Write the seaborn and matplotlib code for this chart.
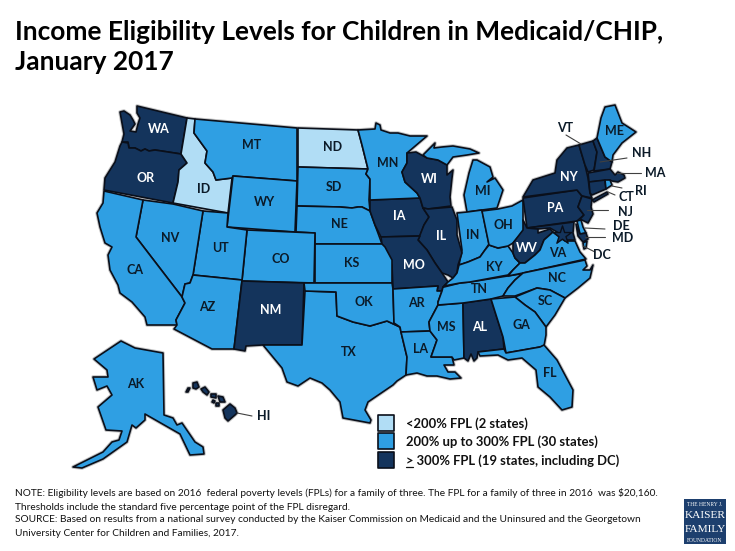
import matplotlib
matplotlib.use("Agg")
import matplotlib.pyplot as plt
import pandas as pd
import seaborn as sns

# state outlines (x right, y down)
WA = [(137,106),(187,118),(181,154),(155,150),(149,151),(145,149),(141,151),(135,148),(129,148),(128,142),(122,142),(124,134),(120,112),(124,111),(130,115),(133,120),(135,124),(130,131),(136,132),(138,124),(140,118),(137,113)]
OR = [(122,142),(128,143),(129,148),(135,148),(141,151),(145,149),(149,151),(155,150),(181,154),(187,163),(179,170),(178,182),(173,203),(104,190),(105,178),(115,162),(120,146)]
ID = [(187,118),(195,119),(194,133),(207,151),(205,163),(213,172),(216,180),(232,178),(228,213),(173,203),(178,182),(179,170),(187,163),(181,154)]
MT = [(195,119),(297,128),(297,181),(233,176),(232,178),(216,180),(213,172),(205,163),(207,151),(194,133)]
WY = [(233,176),(297,181),(295,232),(227,227)]
ND = [(298,128),(358,130),(362,145),(368,169),(298,167)]
SD = [(298,167),(368,169),(366,174),(370,179),(369,200),(370,211),(362,207),(358,207),(352,208),(340,207),(297,206)]
NE = [(297,206),(340,207),(352,208),(358,207),(362,207),(370,211),(375,225),(382,244),(315,244),(315,233),(296,232)]
IA = [(370,200),(420,198),(423,208),(429,217),(424,225),(420,236),(381,237),(375,225),(370,211)]
MN = [(358,130),(375,129),(376,123),(380,125),(381,130),(390,133),(398,133),(410,136),(427,136),(407,153),(407,163),(402,172),(405,182),(417,193),(420,198),(370,200),(370,179),(366,174),(368,169),(362,145)]
WI = [(407,153),(416,152),(427,158),(438,160),(447,165),(447,175),(453,170),(452,178),(450,197),(451,206),(428,209),(423,208),(420,198),(417,193),(405,182),(402,172),(407,163)]
MI_UPPER = [(423,155),(435,143),(434,148),(442,147),(453,146),(470,149),(479,153),(467,155),(453,157),(447,165),(438,160),(427,158)]
MI_LOWER = [(473,160),(477,160),(490,167),(493,177),(487,182),(495,178),(503,190),(498,205),(497,208),(467,212),(464,195),(469,173)]
IN = [(457,213),(467,212),(482,210),(489,244),(485,250),(480,257),(468,262),(459,265),(462,250)]
IL = [(428,209),(452,207),(455,215),(457,220),(457,235),(462,253),(458,265),(457,273),(453,278),(448,275),(442,273),(435,263),(427,250),(418,240),(424,225),(429,217),(423,208)]
MO = [(381,237),(420,236),(418,240),(427,250),(435,263),(442,273),(448,282),(443,287),(442,291),(437,291),(438,286),(393,289),(392,265),(382,244)]
KS = [(315,244),(382,244),(385,247),(392,260),(392,283),(315,283)]
CO = [(247,230),(315,233),(314,283),(242,281)]
UT = [(203,211),(228,213),(227,227),(247,230),(242,280),(193,275)]
NV = [(143,200),(173,204),(203,211),(193,275),(190,283),(185,284),(182,297),(136,237)]
CA = [(104,191),(143,200),(136,237),(182,297),(185,303),(176,320),(177,325),(147,325),(145,317),(132,302),(120,293),(118,285),(110,270),(108,255),(112,247),(105,243),(100,227),(97,213),(103,203)]
AZ = [(193,275),(242,280),(234,349),(212,349),(174,329),(177,325),(176,320),(185,303),(182,297),(185,284),(190,283)]
NM = [(242,281),(304,283),(302,345),(262,345),(246,346),(245,351),(234,349)]
TX = [(305,291),(336,292),(337,316),(353,322),(370,326),(387,321),(400,327),(401,332),(407,357),(406,375),(397,381),(393,385),(368,402),(365,410),(371,420),(370,423),(343,418),(340,402),(330,390),(322,383),(310,378),(298,386),(287,382),(282,368),(263,345),(302,345)]
OK = [(304,283),(392,283),(393,289),(394,323),(400,327),(387,321),(370,326),(353,322),(337,316),(336,292),(305,291)]
AR = [(393,289),(438,286),(437,291),(442,291),(438,302),(438,305),(429,322),(430,331),(401,332),(400,327),(394,323)]
LA = [(401,332),(430,331),(437,340),(431,357),(452,357),(454,365),(444,365),(448,372),(455,372),(461,378),(450,379),(437,376),(427,376),(417,373),(406,375),(407,357)]
MS = [(438,305),(463,303),(464,358),(454,360),(452,357),(431,357),(437,340),(430,331),(429,322)]
AL = [(463,303),(491,299),(503,337),(504,349),(478,352),(477,358),(474,361),(471,354),(468,361),(464,358)]
TN = [(444,287),(460,283),(470,282),(520,274),(523,273),(515,280),(508,288),(503,296),(491,299),(463,303),(438,305),(438,302),(442,291),(443,287)]
KY = [(444,286),(448,282),(453,278),(457,273),(459,265),(468,262),(480,257),(485,250),(489,245),(498,248),(508,246),(513,253),(515,258),(520,263),(513,270),(508,275),(470,282),(460,283)]
OH = [(482,211),(498,209),(512,206),(523,200),(523,220),(525,228),(520,235),(513,243),(508,246),(498,248),(489,245)]
PA = [(523,198),(577,190),(582,196),(578,207),(584,215),(577,221),(527,228)]
NY = [(523,197),(533,180),(555,173),(557,160),(567,148),(579,145),(585,165),(588,178),(590,193),(592,198),(582,196),(577,190)]
NY_LONG_ISLAND = [(592,200),(607,192),(608,194),(594,202)]
VT = [(579,145),(593,141),(597,152),(594,170),(588,172),(585,165)]
NH = [(593,141),(597,138),(605,157),(612,162),(610,169),(594,171),(597,152)]
ME = [(597,138),(601,118),(605,107),(615,105),(622,123),(636,132),(622,143),(613,155),(612,162),(605,157)]
MA = [(588,173),(610,169),(615,175),(618,172),(624,175),(625,178),(618,182),(612,181),(610,180),(589,182)]
CT = [(589,182),(605,180),(606,189),(592,195),(590,193)]
RI = [(605,180),(610,180),(612,185),(606,189)]
NJ = [(582,196),(592,199),(591,207),(593,214),(588,223),(580,219),(584,215),(578,207)]
DE = [(577,221),(581,220),(583,227),(586,233),(580,234)]
MD_WEST = [(527,228),(574,222),(573,233),(575,240),(565,240),(557,232),(550,228),(538,229)]
MD_EAST = [(576,224),(580,234),(586,233),(588,239),(583,242),(578,236)]
WV = [(523,220),(527,228),(538,229),(538,233),(550,229),(553,232),(544,240),(540,250),(535,255),(525,263),(520,263),(515,258),(513,253),(513,243),(523,230)]
VA = [(508,276),(513,270),(520,263),(525,263),(535,255),(540,250),(544,240),(553,232),(558,236),(565,241),(575,241),(580,252),(586,259),(523,273)]
VA_SHORE = [(583,243),(587,241),(586,248),(584,249)]
NC = [(523,273),(585,260),(587,266),(583,270),(590,270),(593,265),(590,278),(578,288),(565,298),(550,290),(537,288),(515,296),(503,296),(508,288),(515,280)]
SC = [(515,297),(537,288),(550,290),(565,298),(555,315),(546,327),(535,312),(525,305)]
GA = [(491,299),(515,297),(525,305),(535,312),(546,327),(546,335),(544,346),(540,347),(506,353),(503,337)]
FL = [(478,352),(504,349),(506,353),(540,347),(544,345),(557,360),(573,390),(572,407),(562,410),(550,397),(538,387),(536,370),(522,358),(508,360),(498,355),(480,356)]
AK = [(121,341),(135,348),(163,353),(164,415),(173,418),(177,425),(182,423),(195,442),(203,447),(204,454),(190,455),(180,434),(145,414),(145,420),(136,428),(132,425),(127,442),(103,459),(82,468),(73,467),(103,452),(112,442),(119,440),(122,431),(106,430),(98,407),(112,395),(107,386),(97,390),(93,377),(108,377),(107,370),(94,359)]
HI_BIG = [(230,404),(235,408),(237,413),(235,415),(228,421),(225,418),(223,410)]
HI_MAUI = [(218,396),(223,397),(225,402),(220,402)]
HI_MOLOKAI = [(211,394),(216,394),(216,398),(211,397)]
HI_LANAI = [(213,400),(215,401),(214,403),(212,402)]
HI_KAHOOLAWE = [(216,403),(219,403),(219,406),(216,406)]
HI_OAHU = [(201,389),(205,387),(209,392),(207,395),(203,392)]
HI_KAUAI = [(193,383),(197,382),(199,387),(196,389),(193,388)]
HI_NIIHAU = [(188,388),(190,388),(188,392),(186,392)]

outlines = {
    "WA": [WA], "OR": [OR], "ID": [ID], "MT": [MT], "WY": [WY], "ND": [ND], "SD": [SD], "NE": [NE],
    "IA": [IA], "MN": [MN], "WI": [WI], "MI": [MI_UPPER, MI_LOWER], "IN": [IN], "IL": [IL], "MO": [MO],
    "KS": [KS], "CO": [CO], "UT": [UT], "NV": [NV], "CA": [CA], "AZ": [AZ], "NM": [NM], "TX": [TX],
    "OK": [OK], "AR": [AR], "LA": [LA], "MS": [MS], "AL": [AL], "TN": [TN], "KY": [KY], "OH": [OH],
    "PA": [PA], "NY": [NY, NY_LONG_ISLAND], "VT": [VT], "NH": [NH], "ME": [ME], "MA": [MA], "CT": [CT],
    "RI": [RI], "NJ": [NJ], "DE": [DE], "MD": [MD_WEST, MD_EAST], "WV": [WV], "VA": [VA, VA_SHORE],
    "NC": [NC], "SC": [SC], "GA": [GA], "FL": [FL], "AK": [AK],
    "HI": [HI_BIG, HI_MAUI, HI_MOLOKAI, HI_LANAI, HI_KAHOOLAWE, HI_OAHU, HI_KAUAI, HI_NIIHAU],
}

tier_low = ["ID", "ND"]
tier_high = ["WA", "OR", "NM", "IA", "MO", "IL", "WI", "AL", "WV", "PA", "NY", "VT", "NH", "MA", "CT", "NJ", "MD", "DC", "HI"]
tier_labels = ["<200% FPL (2 states)", "200% up to 300% FPL (30 states)", "> 300% FPL (19 states, including DC)"]

inside_labels = {
    "WA": (159,129), "OR": (146,178), "ID": (204,189), "MT": (252,145), "WY": (265,202), "ND": (333,147),
    "SD": (334,187), "NE": (339,224), "KS": (352,263), "CO": (281,259), "UT": (220,248), "NV": (170,238),
    "CA": (135,270), "AZ": (207,307), "NM": (271,310), "OK": (364,302), "TX": (349,352), "MN": (388,163),
    "IA": (399,216), "MO": (414,265), "AR": (416,303), "LA": (421,349), "MS": (446,327), "AL": (480,327),
    "WI": (429,179), "IL": (441,236), "MI": (483,191), "IN": (473,235), "OH": (503,225), "KY": (494,267),
    "TN": (479,289), "VA": (558,253), "WV": (527,248), "NC": (557,278), "SC": (545,301), "GA": (521,325),
    "FL": (550,373), "PA": (555,208), "NY": (569,177), "ME": (615,131), "AK": (136,384),
}
# label position, then where its leader line ends
outside_labels = {
    "VT": ((565,128), (566,135), (581,144)), "NH": ((642,153), (627,158), (600,162)),
    "MA": ((655,173), (641,173), (617,173)), "RI": ((641,191), (622,188), (612,186)),
    "CT": ((626,197), (615,195), (608,192)), "NJ": ((625,212), (608,210), (587,210)),
    "DE": ((621,226), (605,229), (585,228)), "MD": ((623,238), (605,237), (585,237)),
    "DC": ((602,255), (595,252), (583,246)), "HI": ((264,416), (252,416), (237,413)),
}

title_lines = ["Income Eligibility Levels for Children in Medicaid/CHIP,", "January 2017"]
note_lines = [
    "NOTE: Eligibility levels are based on 2016  federal poverty levels (FPLs) for a family of three. The FPL for a family of three in 2016  was $20,160.",
    "Thresholds include the standard five percentage point of the FPL disregard.",
    "SOURCE: Based on results from a national survey conducted by the Kaiser Commission on Medicaid and the Uninsured and the Georgetown",
    "University Center for Children and Families, 2017.",
]
logo_lines = ["THE HENRY J.", "KAISER", "FAMILY", "FOUNDATION"]

sns.set_theme(style="white")
plt.rcParams["font.family"] = ["Lato", "DejaVu Sans"]
tier_colors = sns.color_palette(["#B1DDF5", "#2F9FE3", "#14345C"])
outline_color = "#0A0F1A"
label_color = "#0B1A28"


def tier_of(state):
    if state in tier_low:
        return 0
    if state in tier_high:
        return 2
    return 1


fig, ax = plt.subplots(figsize=(7.35, 5.51), dpi=100)
fig.subplots_adjust(0, 0, 1, 1)

# soft grey edge around the land, under the states
for parts in outlines.values():
    for part in parts:
        xs, ys = zip(*part)
        ax.fill(xs, ys, facecolor="none", edgecolor="#C4C4C4", linewidth=2.6, joinstyle="round", zorder=1)

for state, parts in outlines.items():
    for part in parts:
        xs, ys = zip(*part)
        ax.fill(xs, ys, facecolor=tier_colors[tier_of(state)], edgecolor=outline_color, linewidth=1.2, joinstyle="round", zorder=2)

# DC is the star
dc = pd.DataFrame({"x": [562], "y": [235]})
sns.scatterplot(data=dc, x="x", y="y", marker="*", s=190, color=tier_colors[2], edgecolor=outline_color, linewidth=1, ax=ax, zorder=4)

for state, (x, y) in inside_labels.items():
    color = "white" if tier_of(state) == 2 else label_color
    ax.text(x, y, state, color=color, fontsize=9, fontweight="bold", ha="center", va="center", zorder=6)

for state, (pos, start, end) in outside_labels.items():
    ax.plot([start[0], end[0]], [start[1], end[1]], color="#404040", lw=0.8, zorder=5)
    ax.text(pos[0], pos[1], state, color=label_color, fontsize=9, fontweight="bold", ha="center", va="center", zorder=6)

# legend
legend_df = pd.DataFrame({"x": [386, 386, 386], "y": [423, 441, 460], "tier": tier_labels})
sns.scatterplot(data=legend_df, x="x", y="y", hue="tier", palette=list(tier_colors), marker="s", s=125,
                edgecolor=outline_color, linewidth=1.2, legend=False, ax=ax, zorder=4)
for y, label in zip(legend_df["y"], tier_labels):
    ax.text(406, y + 1, label, color="#111111", fontsize=9.4, fontweight="bold", ha="left", va="center")
ax.plot([406, 413], [467, 467], color="#111111", lw=0.9)

ax.text(15, 32, title_lines[0], color="black", fontsize=18.9, fontweight="bold", ha="left", va="center")
ax.text(15, 62, title_lines[1], color="black", fontsize=18.9, fontweight="bold", ha="left", va="center")

for y, line in zip([493, 507, 520, 534], note_lines):
    ax.text(15, y, line, color="#111111", fontsize=7.3, ha="left", va="center")

# logo
ax.add_patch(plt.Rectangle((684, 499), 42, 45, facecolor="#1D3F6E", edgecolor="none"))
for y, line, size in zip([505, 516, 529, 540], logo_lines, [4, 8.2, 8.2, 4]):
    ax.text(705, y, line, color="white", fontsize=size, family="Liberation Serif", ha="center", va="center")

ax.set_xlim(0, 735)
ax.set_ylim(551, 0)
ax.axis("off")
fig.savefig("out.png", dpi=100, facecolor="white")
